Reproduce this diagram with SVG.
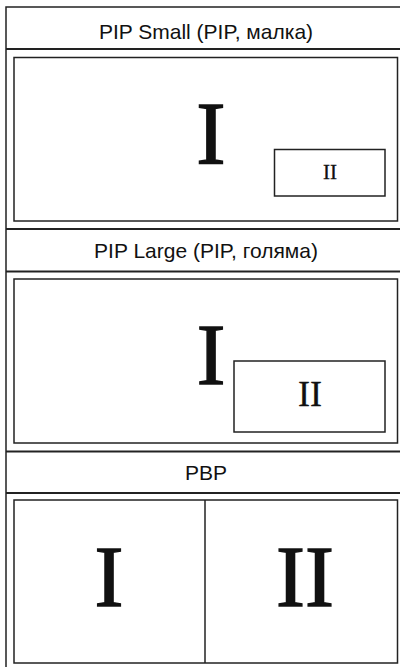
<svg xmlns="http://www.w3.org/2000/svg" width="400" height="667" viewBox="0 0 400 667">
<style>
.frame{fill:none;stroke:#222;stroke-width:1.5}
.sep{fill:none;stroke:#222;stroke-width:2}
.box{fill:#fff;stroke:#222;stroke-width:1.5}
.title{font-family:"Liberation Sans",Arial,sans-serif;font-size:21px;fill:#111;text-anchor:middle}
.roman{font-family:"Liberation Serif","Times New Roman",serif;fill:#111;stroke:#111;text-anchor:middle}
.big{stroke-width:1.4}
.small{stroke-width:0.3}
</style>
<rect width="400" height="667" fill="#fff"/>
<g id="frame">
<rect class="frame" x="6" y="7" width="410" height="670"/>
<line class="sep" x1="6" y1="49" x2="400" y2="49"/>
<line class="sep" x1="6" y1="229" x2="400" y2="229"/>
<line class="sep" x1="6" y1="271.5" x2="400" y2="271.5"/>
<line class="sep" x1="6" y1="451.5" x2="400" y2="451.5"/>
<line class="sep" x1="6" y1="493" x2="400" y2="493"/>
</g>
<g id="pip-small">
<text class="title" x="206" y="39">PIP Small (PIP, малка)</text>
<rect class="box" x="14" y="57.5" width="383.5" height="163.5"/>
<text class="roman big" x="211" y="163" font-size="88">I</text>
<rect class="box" x="274.5" y="149.5" width="110.5" height="46.5"/>
<text class="roman small" x="330" y="179" font-size="21">II</text>
</g>
<g id="pip-large">
<text class="title" x="206" y="258">PIP Large (PIP, голяма)</text>
<rect class="box" x="14" y="279" width="383.5" height="164"/>
<text class="roman big" x="211" y="384" font-size="86">I</text>
<rect class="box" x="234" y="361" width="151" height="71" stroke-width="2"/>
<text class="roman small" x="310" y="406" font-size="36">II</text>
</g>
<g id="pbp">
<text class="title" x="206" y="480">PBP</text>
<rect class="box" x="14" y="500" width="383.5" height="163"/>
<line class="frame" x1="205" y1="500" x2="205" y2="663"/>
<text class="roman big" x="109" y="606" font-size="87">I</text>
<text class="roman big" x="305" y="606" font-size="87">II</text>
</g>
</svg>
